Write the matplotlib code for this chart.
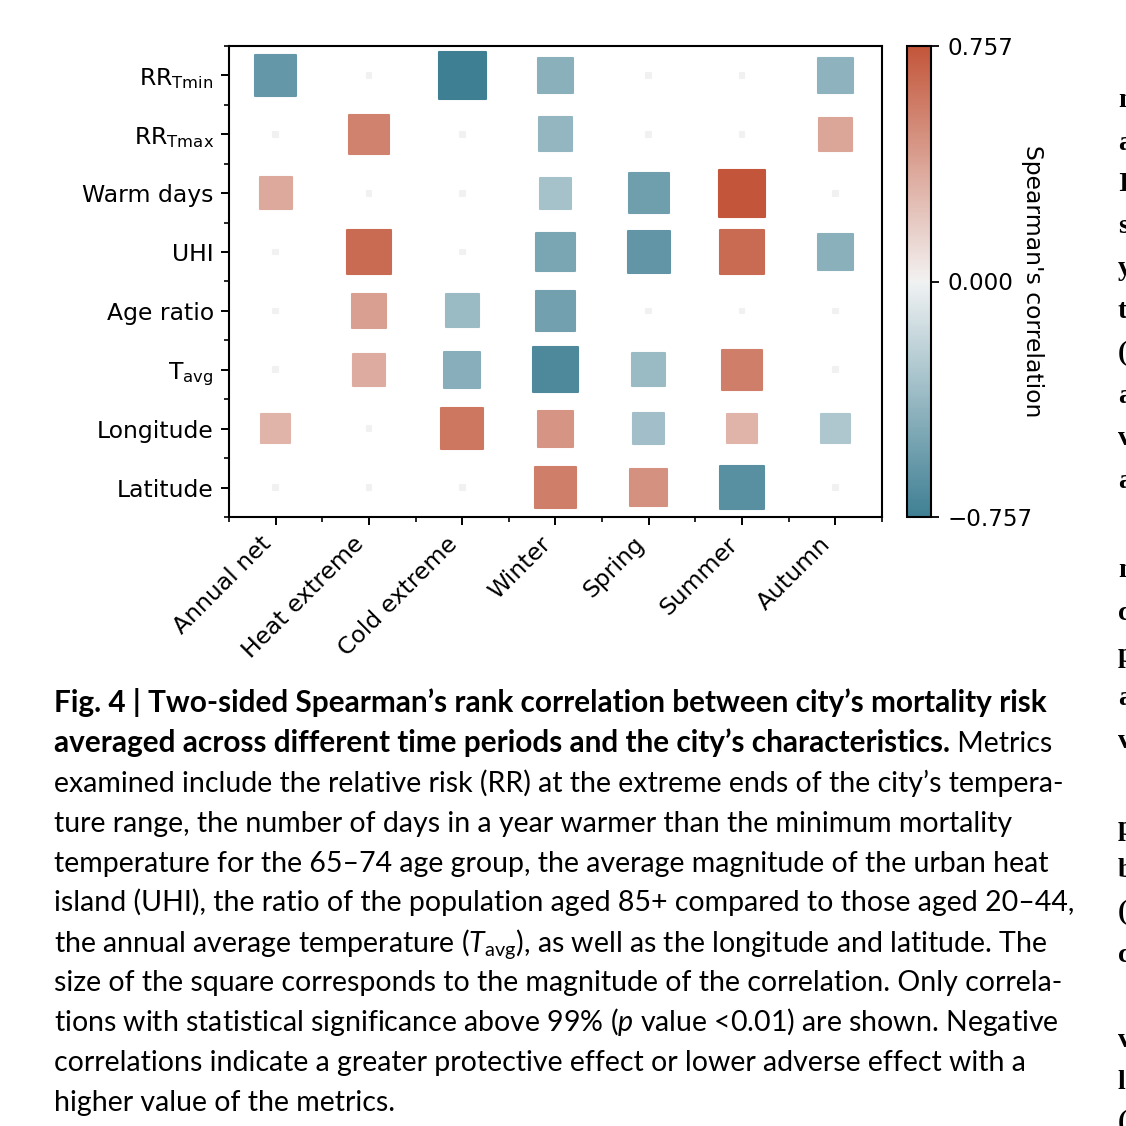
import numpy as np
import matplotlib
matplotlib.use("Agg")
import matplotlib.pyplot as plt
import seaborn as sns
from matplotlib import font_manager as fm
from matplotlib.colors import Normalize
from matplotlib.cm import ScalarMappable
from matplotlib.text import Annotation
from matplotlib.ticker import FuncFormatter

# ---------------- data ----------------
metrics = ["RR$_{Tmin}$", "RR$_{Tmax}$", "Warm days", "UHI", "Age ratio",
           "T$_{avg}$", "Longitude", "Latitude"]
periods = ["Annual net", "Heat extreme", "Cold extreme", "Winter", "Spring",
           "Summer", "Autumn"]
# Spearman's correlation per metric (row) across periods (columns); 0 = not significant
rr_tmin   = [-0.597, 0.0, -0.757, -0.434, 0.0, 0.0, -0.412]
rr_tmax   = [0.0, 0.536, 0.0, -0.392, 0.0, 0.0, 0.372]
warm_days = [0.352, 0.0, 0.0, -0.323, -0.548, 0.757, 0.0]
uhi       = [0.0, 0.648, 0.0, -0.500, -0.609, 0.648, -0.434]
age_ratio = [0.0, 0.402, -0.372, -0.536, 0.0, 0.0, 0.0]
t_avg     = [0.0, 0.342, -0.444, -0.688, -0.372, 0.560, 0.0]
longitude = [0.296, 0.0, 0.597, 0.444, -0.333, 0.296, -0.279]
latitude  = [0.0, 0.0, 0.0, 0.560, 0.466, -0.648, 0.0]
vmax = 0.757
cbar_ticks = [-0.757, 0.0, 0.757]
cbar_label = "Spearman's correlation"

caption_bold_1 = "Fig. 4 | Two-sided Spearman\u2019s rank correlation between city\u2019s mortality risk"
caption_bold_2 = "averaged across different time periods and the city\u2019s characteristics."
caption_cont_2 = " Metrics"
caption_lines = [
    "examined include the relative risk (RR) at the extreme ends of the city\u2019s tempera-",
    "ture range, the number of days in a year warmer than the minimum mortality",
    "temperature for the 65\u201374 age group, the average magnitude of the urban heat",
    "island (UHI), the ratio of the population aged 85+ compared to those aged 20\u201344,",
    "the annual average temperature ($\\mathit{T}_{avg}$), as well as the longitude and latitude. The",
    "size of the square corresponds to the magnitude of the correlation. Only correla-",
    "tions with statistical significance above 99% ($\\mathit{p}$ value <0.01) are shown. Negative",
    "correlations indicate a greater protective effect or lower adverse effect with a",
    "higher value of the metrics.",
]
# first letters of the neighbouring column, cut by the page edge
edge_letters = ["m", "a", "I", "s", "y", "t", "(", "a", "v", "a",
                "m", "c", "p", "a", "v", "p", "b", "(", "c", "v", "l", "("]
edge_rows = [100, 143, 184, 226, 268, 311, 353, 396, 438, 481,
             570, 613, 655, 698, 741, 828, 870, 912, 955, 1040, 1082, 1122]

# ---------------- fonts ----------------
def has_font(name):
    try:
        fm.findfont(fm.FontProperties(family=name), fallback_to_default=False)
        return True
    except Exception:
        return False

cap_family = "DejaVu Sans"
for cand in ["Lato", "Open Sans", "Noto Sans"]:
    if has_font(cand):
        cap_family = cand
        break

plt.rcParams["font.family"] = ["DejaVu Sans"]
plt.rcParams["mathtext.fontset"] = "custom"
plt.rcParams["mathtext.default"] = "regular"
plt.rcParams["mathtext.it"] = cap_family + ":italic"
plt.rcParams["axes.unicode_minus"] = True

FS = 16.9
W = H = 1126
fig = plt.figure(figsize=(W / 100, H / 100), dpi=100)
fig.patch.set_facecolor("white")

def fx(px):
    return px / W

def fy(py):
    return 1 - py / H

ax = fig.add_axes([fx(229), fy(517), fx(882) - fx(229), fy(46) - fy(517)])
cax = fig.add_axes([fx(907), fy(517), fx(931) - fx(907), fy(46) - fy(517)])

cmap = sns.diverging_palette(220, 20, as_cmap=True)
norm = Normalize(-vmax, vmax)

data = np.array([rr_tmin, rr_tmax, warm_days, uhi, age_ratio, t_avg,
                 longitude, latitude])
xs, ys = np.meshgrid(np.arange(len(periods)), np.arange(len(metrics)))
vals = data.ravel()
s_max = 1135
sizes = s_max * (0.01 + 0.99 * np.abs(vals) / vmax)
ax.scatter(xs.ravel(), ys.ravel(), s=sizes, c=vals, cmap=cmap, norm=norm,
           marker="s", linewidths=1.5, edgecolors="face")

ax.set_xlim(-0.5, len(periods) - 0.5)
ax.set_ylim(len(metrics) - 0.5, -0.5)
ax.set_xticks(np.arange(len(periods)))
ax.set_xticklabels(periods, rotation=45, ha="right", fontsize=FS)
ax.set_yticks(np.arange(len(metrics)))
ax.set_yticklabels(metrics, fontsize=FS)
ax.set_xticks(np.arange(-0.5, len(periods), 1), minor=True)
ax.set_yticks(np.arange(-0.5, len(metrics), 1), minor=True)
ax.tick_params(which="major", length=6, width=1.4, pad=5)
ax.tick_params(which="minor", length=3.3, width=1.2)
for sp in ax.spines.values():
    sp.set_linewidth(1.5)

sm = ScalarMappable(norm=norm, cmap=cmap)
cb = fig.colorbar(sm, cax=cax, ticks=cbar_ticks)
cb.outline.set_linewidth(1.5)
cb.ax.yaxis.set_major_formatter(FuncFormatter(lambda v, p: ("%.3f" % v).replace("-", "\u2212")))
cb.ax.tick_params(length=6, width=1.3, pad=6, labelsize=16.6)
cax.text((1021 - 907) / 24, 0.5, cbar_label, rotation=270, ha="left",
         va="center", fontsize=FS, transform=cax.transAxes)

# ---------------- caption ----------------
base0 = 712
step = 39.9
left = 54
CAP = 18.5
t1 = fig.text(fx(left), fy(base0), caption_bold_1, family=cap_family,
              weight="bold", fontsize=CAP, va="baseline", ha="left")
t2 = fig.text(fx(left), fy(base0 + step), caption_bold_2, family=cap_family,
              weight="bold", fontsize=CAP, va="baseline", ha="left")
t2b = Annotation(caption_cont_2, xy=(1, 0), xycoords=t2, va="bottom", ha="left",
                 family=cap_family, fontsize=CAP)
fig.add_artist(t2b)
regular = [t2b]
for i, line in enumerate(caption_lines):
    t = fig.text(fx(left), fy(base0 + step * (i + 2)), line, family=cap_family,
                 fontsize=CAP, va="baseline", ha="left")
    regular.append(t)

# fit caption sizes to the measured line widths
fig.canvas.draw()
r = fig.canvas.get_renderer()
targets = {1: 1070, 4: 1072, 6: 1066}
ratios = []
for k, right in targets.items():
    bb = regular[k].get_window_extent(r)
    ratios.append((right - left) / bb.width)
reg_size = CAP * float(np.mean(ratios))
bb1 = t1.get_window_extent(r)
bold_size = CAP * (1051 - left) / bb1.width
for t in regular:
    t.set_fontsize(reg_size)
for t in (t1, t2):
    t.set_fontsize(bold_size)

for letter, yy in zip(edge_letters, edge_rows):
    fig.text(fx(1118), fy(yy + 7), letter, family="Liberation Serif",
             weight="bold", fontsize=20, va="baseline", ha="left")

fig.savefig("out.png", dpi=100, facecolor="white")
